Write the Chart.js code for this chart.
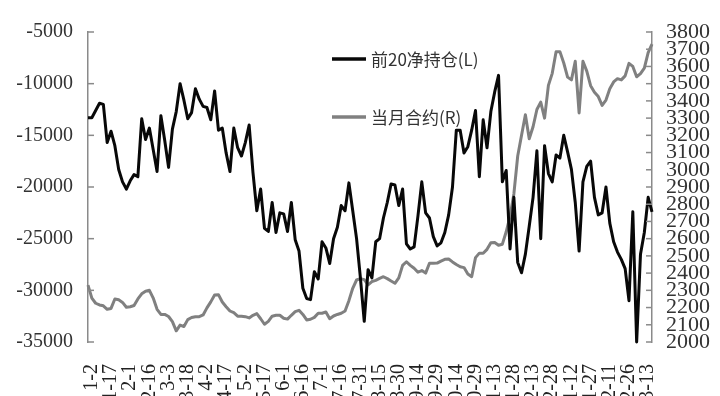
<!DOCTYPE html>
<html><head><meta charset="utf-8">
<script src="https://cdn.jsdelivr.net/npm/chart.js@4/dist/chart.umd.min.js"></script>
<style>html,body{margin:0;padding:0;background:#fff;overflow:hidden}#wrap{width:720px;height:396px;position:relative}
.pre{position:absolute;left:-9999px;top:0;font-family:"Liberation Serif";}</style>
</head><body><div id="wrap"><canvas id="c" width="720" height="396"></canvas></div>
<span class="pre">0123456789-</span>
<script>
const dateLabels = ['1-2','1-17','2-1','2-16','3-3','3-18','4-2','4-17','5-2','5-17','6-1','6-16','7-1','7-16','7-31','8-15','8-30','9-14','9-29','10-14','10-29','11-13','11-28','12-13','12-28','1-12','1-27','2-11','2-26','3-13'];

const netPosition = [
 -13300,-13300,-12600,-11900,-12000,-15700,-14600,-16000,-18300,-19500,
 -20200,-19400,-18800,-19000,-13400,-15400,-14300,-16400,-18500,-13100,
 -15500,-18100,-14400,-12700,-10000,-11600,-13400,-12800,-10500,-11500,
 -12200,-12300,-13500,-10700,-14500,-14300,-16700,-18500,-14300,-16200,
 -17000,-15700,-14000,-18600,-22300,-20200,-24000,-24300,-21500,-24400,
 -22500,-22600,-24300,-21500,-25100,-26200,-29800,-30800,-30900,-28200,
 -28900,-25300,-25900,-27400,-25000,-23900,-21800,-22300,-19600,-22300,
 -25000,-28800,-33000,-28000,-28800,-25300,-25000,-23000,-21500,-19700,
 -19800,-21800,-20200,-25500,-26000,-25800,-22800,-19500,-22500,-23000,
 -24800,-25700,-25400,-24400,-22700,-20000,-14500,-14500,-16700,-16100,
 -14500,-12600,-19000,-13500,-16200,-12700,-10800,-9200,-19500,-18400,
 -26000,-21000,-27300,-28300,-26500,-23800,-21000,-16500,-25000,-16000,
 -18700,-19500,-16900,-17200,-15000,-16600,-18300,-21500,-26200,-19500,
 -18000,-17500,-21000,-22700,-22500,-20000,-23500,-25300,-26300,-27000,
 -27900,-31000,-22400,-35000,-26500,-24400,-21000,-22400];

const monthContract = [
 2330,2255,2225,2215,2210,2190,2195,2250,2245,2230,
 2202,2205,2212,2250,2280,2295,2300,2255,2190,2160,
 2160,2148,2118,2065,2098,2090,2130,2142,2147,2147,
 2157,2198,2233,2273,2275,2232,2205,2180,2170,2150,
 2150,2147,2140,2155,2165,2135,2103,2120,2150,2155,
 2155,2138,2133,2155,2176,2184,2160,2128,2132,2143,
 2167,2167,2174,2135,2151,2160,2167,2180,2240,2312,
 2360,2368,2362,2332,2351,2358,2369,2379,2368,2354,
 2341,2372,2445,2466,2445,2428,2405,2415,2400,2457,
 2457,2458,2470,2480,2482,2465,2450,2437,2432,2395,
 2379,2490,2516,2515,2538,2576,2578,2562,2568,2640,
 2730,2860,3080,3200,3320,3180,3250,3350,3393,3300,
 3490,3560,3685,3686,3620,3538,3522,3630,3330,3630,
 3573,3488,3450,3425,3374,3405,3470,3510,3529,3522,
 3545,3618,3600,3540,3558,3590,3680,3730];

const seriesNames = ['前20净持仓(L)', '当月合约(R)'];
const leftRange = [-35000, -5000, 5000];
const rightRange = [2000, 3800, 100];

const STEP = 5;
const categories = netPosition.map((_, i) => (i >= 1 && (i - 1) % STEP === 0) ? dateLabels[(i - 1) / STEP] : '');

const BLACK = '#080808', GRAY = '#808080', AXIS = '#8a8a8a';
const SERIF = "'Liberation Serif', serif";

const innerTicks = {
  id: 'innerTicks',
  afterDraw(chart) {
    const ctx = chart.ctx, a = chart.chartArea;
    ctx.save();
    ctx.strokeStyle = AXIS; ctx.lineWidth = 1.5;
    const yl = chart.scales.y, yr = chart.scales.y1;
    yl.ticks.forEach((t, i) => {
      const p = yl.getPixelForTick(i);
      ctx.beginPath(); ctx.moveTo(a.left, p); ctx.lineTo(a.left + 6, p); ctx.stroke();
    });
    yr.ticks.forEach((t, i) => {
      const p = yr.getPixelForTick(i);
      ctx.beginPath(); ctx.moveTo(a.right, p); ctx.lineTo(a.right - 6, p); ctx.stroke();
    });
    ctx.restore();
  }
};

const legendPlugin = {
  id: 'customLegend',
  afterDraw(chart) {
    const ctx = chart.ctx;
    ctx.save();
    const items = [[seriesNames[0], BLACK, 59], [seriesNames[1], GRAY, 117]];
    items.forEach(([txt, col, y]) => {
      ctx.strokeStyle = col; ctx.lineWidth = 3.5;
      ctx.beginPath(); ctx.moveTo(332, y); ctx.lineTo(366, y); ctx.stroke();
      ctx.fillStyle = '#333';
      ctx.font = "17px 'Noto Sans CJK SC', sans-serif";
      ctx.textBaseline = 'middle';
      ctx.fillText(txt, 371, y + 1);
    });
    ctx.restore();
  }
};

const plain = v => String(v);

function draw() {
  Chart.defaults.font.family = SERIF;
  new Chart(document.getElementById('c'), {
    type: 'line',
    data: {
      labels: categories,
      datasets: [
        { label: seriesNames[0], data: netPosition, yAxisID: 'y', borderColor: BLACK, borderWidth: 3, pointRadius: 0, tension: 0, borderJoinStyle: 'round', clip: 4 },
        { label: seriesNames[1], data: monthContract, yAxisID: 'y1', borderColor: GRAY, borderWidth: 3, pointRadius: 0, tension: 0, borderJoinStyle: 'round', clip: 4 }
      ]
    },
    options: {
      responsive: false,
      devicePixelRatio: 1,
      animation: false,
      layout: { padding: { top: 32, left: 0, right: 0, bottom: 0 } },
      plugins: { legend: { display: false }, tooltip: { enabled: false } },
      scales: {
        x: {
          type: 'category',
          offset: false,
          afterFit(s) { s.height = 54; },
          grid: { display: false, drawTicks: false },
          border: { display: false },
          ticks: { autoSkip: false, maxRotation: 90, minRotation: 90, padding: 22, color: '#222', font: { family: SERIF, size: 20 } }
        },
        y: {
          position: 'left',
          min: leftRange[0], max: leftRange[1],
          afterFit(s) { s.width = 88; },
          grid: { drawOnChartArea: false, drawTicks: false },
          border: { display: true, color: AXIS, width: 1.5 },
          ticks: { stepSize: leftRange[2], padding: 15, color: '#333', callback: plain, font: { family: SERIF, size: 20 } }
        },
        y1: {
          position: 'right',
          min: rightRange[0], max: rightRange[1],
          afterFit(s) { s.width = 68; },
          grid: { drawOnChartArea: false, drawTicks: false },
          border: { display: true, color: AXIS, width: 1.5 },
          ticks: { stepSize: rightRange[2], autoSkip: false, padding: 14, color: '#333', callback: plain, font: { family: SERIF, size: 22 } }
        }
      }
    },
    plugins: [innerTicks, legendPlugin]
  });
}

const loads = [document.fonts.load("19px 'Liberation Serif'", '0123456789-'), document.fonts.load("17px 'Noto Sans CJK SC'", '前20净持仓当月合约')];
Promise.all(loads).then(draw, draw);
</script>
</body></html>
